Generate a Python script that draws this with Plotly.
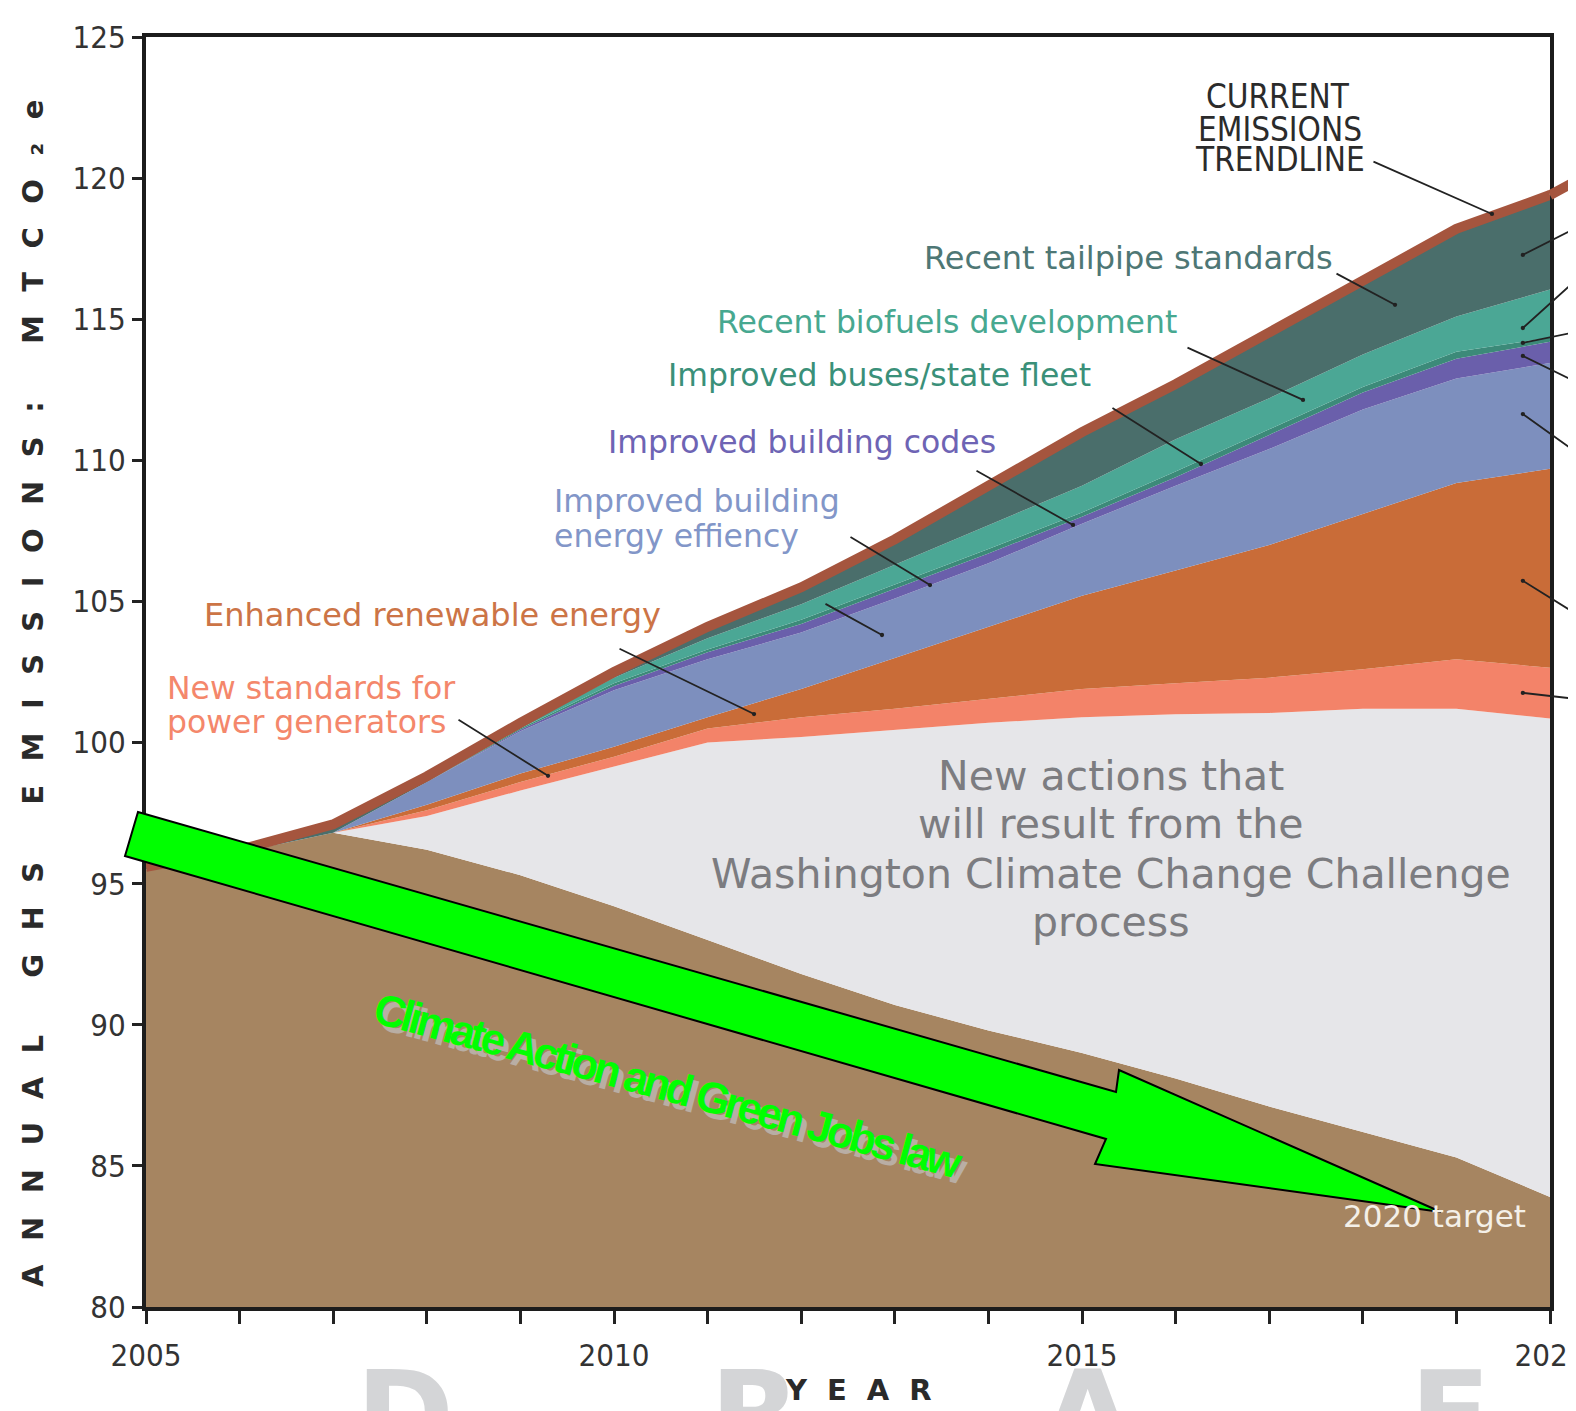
import plotly.graph_objects as go

# ---------------- data (MTCO2e) ----------------
years = list(range(2005, 2021))
# level of the top edge of each wedge, bottom to top
base_2020_target = [95.5, 96.1, 96.8, 96.2, 95.3, 94.2, 93.0, 91.8, 90.7, 89.8, 89.0, 88.1, 87.1, 86.2, 85.3, 83.9]
top_wccc_process = [95.5, 96.1, 96.8, 97.4, 98.3, 99.15, 100.0, 100.2, 100.45, 100.7, 100.9, 101.0, 101.05, 101.2, 101.2, 100.85]
top_power_standards = [95.5, 96.1, 96.8, 97.6, 98.6, 99.5, 100.5, 100.9, 101.2, 101.55, 101.9, 102.1, 102.3, 102.6, 102.95, 102.65]
top_renewable = [95.5, 96.1, 96.8, 97.8, 98.9, 99.85, 100.9, 101.9, 103.0, 104.1, 105.2, 106.1, 107.0, 108.1, 109.2, 109.7]
top_bldg_efficiency = [95.5, 96.1, 96.8, 98.6, 100.4, 101.85, 102.95, 103.9, 105.1, 106.35, 107.75, 109.1, 110.4, 111.8, 112.9, 113.45]
top_bldg_codes = [95.5, 96.1, 96.8, 98.6, 100.45, 102.0, 103.2, 104.2, 105.45, 106.7, 108.0, 109.4, 110.9, 112.4, 113.6, 114.2]
top_buses_fleet = [95.5, 96.1, 96.8, 98.6, 100.5, 102.1, 103.3, 104.35, 105.6, 106.86, 108.15, 109.6, 111.1, 112.6, 113.85, 114.35]
top_biofuels = [95.5, 96.1, 96.8, 98.6, 100.6, 102.3, 103.7, 104.9, 106.3, 107.7, 109.1, 110.75, 112.2, 113.75, 115.1, 116.05]
current_trendline = [95.6, 96.2, 97.1, 98.8, 100.7, 102.5, 104.1, 105.5, 107.2, 109.1, 111.0, 112.7, 114.5, 116.3, 118.2, 119.4]

x_tick_labels = ["2005", "", "", "", "", "2010", "", "", "", "", "2015", "", "", "", "", "2020"]
y_ticks = [80, 85, 90, 95, 100, 105, 110, 115, 120, 125]

layers = [
    ("2020 target", base_2020_target, "#a68561"),
    ("WCCC process", top_wccc_process, "#e6e6e9"),
    ("New standards for power generators", top_power_standards, "#f38369"),
    ("Enhanced renewable energy", top_renewable, "#c96c38"),
    ("Improved building energy effiency", top_bldg_efficiency, "#7d8fbe"),
    ("Improved building codes", top_bldg_codes, "#6a5fab"),
    ("Improved buses/state fleet", top_buses_fleet, "#3c8a79"),
    ("Recent biofuels development", top_biofuels, "#4ba795"),
    ("Recent tailpipe standards", current_trendline, "#4a6e6b"),
]
TREND_COLOR = "#a5553e"

# ---------------- figure geometry ----------------
# the page body has an 8px margin, so the figure is drawn 8px in from the corner
OFF = 8
PAGE_W, PAGE_H = 1576, 1411
PLOT_L, PLOT_R, PLOT_T, PLOT_B = 146, 1550, 37, 1307   # plot area on the page
W, H = PAGE_W - OFF, PAGE_H - OFF
ML, MT = PLOT_L - OFF, PLOT_T - OFF
MR, MB = PAGE_W - PLOT_R, PAGE_H - PLOT_B
PW, PH = PLOT_R - PLOT_L, PLOT_B - PLOT_T


def px(x):
    return (x - PLOT_L) / PW


def py(y):
    return (PLOT_B - y) / PH


SANS = "DejaVu Sans, Verdana, sans-serif"
COND = "DejaVu Sans Condensed, DejaVu Sans, sans-serif"

fig = go.Figure()
for i, (name, vals, col) in enumerate(layers):
    fig.add_trace(go.Scatter(
        x=years, y=vals, name=name, mode="lines",
        line=dict(width=0, color=col),
        fill="tozeroy" if i == 0 else "tonexty",
        fillcolor=col, hoverinfo="skip", showlegend=False))

fig.add_trace(go.Scatter(
    x=years, y=current_trendline, mode="lines", name="Current emissions trendline",
    line=dict(width=10, color=TREND_COLOR), hoverinfo="skip", showlegend=False))

fig.update_layout(
    width=W, height=H,
    margin=dict(l=ML, r=MR, t=MT, b=MB, pad=0, autoexpand=False),
    paper_bgcolor="white", plot_bgcolor="white",
    showlegend=False,
)
fig.update_xaxes(
    range=[2005, 2020], tickmode="array", tickvals=years, ticktext=x_tick_labels,
    ticks="outside", ticklen=13, tickwidth=3, tickcolor="#222",
    ticklabelstandoff=5, ticklabeloverflow="allow", automargin=False,
    showline=True, linewidth=4, linecolor="#1c1c1c", mirror=True,
    showgrid=False, zeroline=False,
    tickfont=dict(family=COND, size=31, color="#333"),
)
fig.update_yaxes(
    range=[80, 125], tickmode="array", tickvals=y_ticks, automargin=False,
    ticks="outside", ticklen=10, tickwidth=3, tickcolor="#222",
    showline=True, linewidth=4, linecolor="#1c1c1c", mirror=True,
    showgrid=False, zeroline=False,
    tickfont=dict(family=COND, size=31, color="#333"),
)

# ---------------- DRAFT watermark (cut off at the bottom) ----------------
for letter, cx in [("D", 405), ("R", 755), ("A", 1087), ("F", 1450)]:
    fig.add_annotation(xref="paper", yref="paper", x=px(cx), y=py(1343),
                       xanchor="center", yanchor="top", showarrow=False,
                       text=letter, font=dict(family=SANS, size=118, color="#d4d5d7", weight="bold"))

# ---------------- green arrow ----------------
arrow_px = [(138, 812), (1116, 1092), (1119, 1070), (1441, 1212), (1095, 1164), (1106, 1139), (125, 856)]
path = "M " + " L ".join(f"{px(a):.5f},{py(b):.5f}" for a, b in arrow_px) + " Z"
fig.add_shape(type="path", path=path, xref="paper", yref="paper",
              fillcolor="#00ff00", line=dict(color="black", width=2), layer="above")

# ---------------- trendline continues past the frame ----------------
fig.add_annotation(x=2020, y=current_trendline[-1], xref="x", yref="y", ax=32, ay=-14,
                   text="", showarrow=True, arrowhead=0, arrowwidth=10,
                   arrowcolor=TREND_COLOR, standoff=0)

# ---------------- leader lines (dot at the wedge, offset to the label) ----------------
leaders = [
    (2009.295, 98.82, -91, -57),
    (2011.496, 101.01, -136, -66),
    (2012.863, 103.81, -58, -32),
    (2013.376, 105.58, -81, -49),
    (2014.904, 107.71, -98, -55),
    (2016.271, 109.87, -90, -57),
    (2017.361, 112.14, -117, -53),
    (2018.344, 115.51, -60, -32),
    (2019.38, 118.73, -120, -53),
    (2019.71, 117.28, 80, -27),
    (2019.71, 114.69, 80, -48),
    (2019.71, 114.16, 80, -11),
    (2019.71, 113.70, 80, 26),
    (2019.71, 111.64, 80, 38),
    (2019.71, 105.73, 80, 33),
    (2019.71, 101.76, 80, 6),
]
for xv, yv, dx, dy in leaders:
    fig.add_annotation(x=xv, y=yv, xref="x", yref="y", ax=dx, ay=dy, text="",
                       showarrow=True, arrowhead=6, arrowsize=0.6, arrowwidth=1.8,
                       arrowcolor="#222", standoff=0)


def label(text, x, y, color, size=31.5, anchor="left", family=SANS, **kw):
    fig.add_annotation(xref="paper", yref="paper", x=px(x), y=py(y), text=text,
                       showarrow=False, xanchor=anchor, yanchor="middle",
                       font=dict(family=family, size=size, color=color), **kw)


label("CURRENT", 1278, 96, "#2b2b2b", size=33, anchor="center", family=COND)
label("EMISSIONS", 1280, 129, "#2b2b2b", size=33, anchor="center", family=COND)
label("TRENDLINE", 1280, 159, "#2b2b2b", size=33, anchor="center", family=COND)
label("Recent tailpipe standards", 922, 258, "#4e7775", size=32)
label("Recent biofuels development", 715, 322, "#47a890")
label("Improved buses/state fleet", 666, 375, "#3a9079")
label("Improved building codes", 606, 442, "#6e64b4")
label("Improved building", 552, 501, "#8296c8")
label("energy effiency", 552, 536, "#8296c8")
label("Enhanced renewable energy", 202, 615, "#cc7446", size=32)
label("New standards for", 165, 688, "#f4876b")
label("power generators", 165, 722, "#f4876b")
label("New actions that", 1111, 776, "#7c7c80", size=41, anchor="center")
label("will result from the", 1111, 824, "#7c7c80", size=41, anchor="center")
label("Washington Climate Change Challenge", 1111, 874, "#7c7c80", size=41, anchor="center")
label("process", 1111, 922, "#7c7c80", size=41, anchor="center")
label("2020 target", 1434, 1216, "#f4f0e8", size=31, anchor="center")

# slanted green title with grey shadow (tightly set)
GREEN_TXT = '<span style="letter-spacing:-4px">Climate Action and Green Jobs law</span>'
for dx, dy, col in [(5, 6, "#b9aea4"), (0, 0, "#00ff00")]:
    fig.add_annotation(xref="paper", yref="paper", x=px(668 + dx), y=py(1085 + dy),
                       text=GREEN_TXT, showarrow=False, xanchor="center", yanchor="middle",
                       textangle=15,
                       font=dict(family="Liberation Sans, Arial, sans-serif",
                                 size=44, color=col, weight="bold"))

# axis titles (letter-spaced)
fig.add_annotation(xref="paper", yref="paper", x=px(33), y=py(682), textangle=-90,
                   text='<span style="letter-spacing:23.5px">ANNUAL GHS EMISSIONS: MTCO\u2082e</span>',
                   showarrow=False, xanchor="center", yanchor="middle",
                   font=dict(family=SANS, size=29, color="#2a2a2a", weight="bold"))
fig.add_annotation(xref="paper", yref="paper", x=px(868), y=py(1390),
                   text='<span style="letter-spacing:20px">YEAR</span>',
                   showarrow=False, xanchor="center", yanchor="middle",
                   font=dict(family=SANS, size=29, color="#2a2a2a", weight="bold"))

fig.write_html("out.html")
